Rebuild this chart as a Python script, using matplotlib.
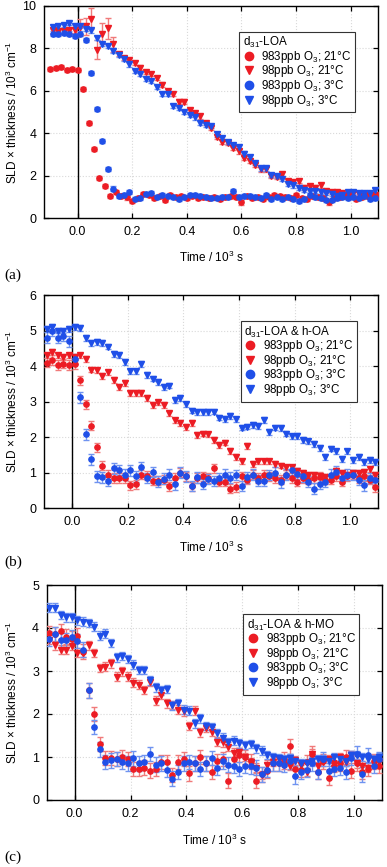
import numpy as np
import matplotlib
matplotlib.use("Agg")
import matplotlib.pyplot as plt
from matplotlib.lines import Line2D

plt.rcParams['font.family'] = ['Liberation Sans', 'DejaVu Sans']
plt.rcParams['mathtext.fontset'] = 'custom'
plt.rcParams['mathtext.rm'] = 'Liberation Sans'
plt.rcParams['mathtext.it'] = 'Liberation Sans:italic'
plt.rcParams['mathtext.bf'] = 'Liberation Sans:bold'

# ---------------- data ----------------
t_even = np.round(np.arange(-0.10, 1.1001, 0.02), 2)   # 61 samples
t_odd = np.round(np.arange(-0.09, 1.0901, 0.02), 2)    # 60 samples

series_labels = ["983ppb O$_3$; 21°C", "98ppb O$_3$; 21°C",
                 "983ppb O$_3$; 3°C", "98ppb O$_3$; 3°C"]
panel_titles = ["d$_{31}$-LOA", "d$_{31}$-LOA & h-OA", "d$_{31}$-LOA & h-MO"]
panel_tags = ["(a)", "(b)", "(c)"]

# Panel (a) d31-LOA
a_red_983 = [7.05, 7.07, 7.12, 7.0, 7.02, 6.97, 6.1, 4.5, 3.25, 1.9,
             1.52, 1.05, 1.25, 1.05, 0.98, 0.8, 0.95, 1.15, 1.1, 0.95,
             1.05, 0.85, 1.1, 1.0, 1.05, 0.95, 1.05, 0.95, 1.0, 0.95,
             1.0, 0.9, 1.0, 1.05, 1.0, 0.75, 1.05, 0.95, 1.0, 0.9,
             1.0, 1.1, 1.05, 1.0, 0.95, 1.1, 0.95, 0.9, 1.05, 1.0,
             0.95, 0.75, 0.95, 1.0, 1.05, 1.1, 0.9, 1.0, 1.05, 1.0,
             1.05]
a_red_98 = [8.85, 8.8, 8.8, 8.85, 8.85, 9.0, 9.05, 9.4, 7.95, 8.7,
            8.95, 8.2, 7.75, 7.55, 7.45, 7.3, 7.1, 6.9, 6.8, 6.6,
            6.3, 6.0, 5.85, 5.5, 5.5, 5.1, 4.95, 4.8, 4.5, 4.25,
            3.85, 3.6, 3.55, 3.3, 3.15, 2.85, 2.7, 2.5, 2.3, 2.3,
            2.0, 1.95, 2.1, 1.75, 1.7, 1.75, 1.45, 1.5, 1.45, 1.55,
            1.3, 1.25, 1.25, 1.2, 1.1, 1.2, 1.15, 1.1, 1.1, 1.1]
a_red_98_err = [0.1, 0.1, 0.1, 0.1, 0.1, 0.4, 0.4, 0.5, 0.45, 0.5, 0.5, 0.35]
a_blue_983 = [8.7, 8.7, 8.75, 8.7, 8.6, 8.7, 8.4, 6.85, 5.15, 3.65,
              2.33, 1.4, 1.05, 1.1, 1.25, 0.9, 0.95, 1.15, 1.2, 1.0,
              1.1, 1.05, 1.0, 0.9, 1.0, 1.1, 1.1, 1.05, 1.0, 0.95,
              0.95, 1.0, 1.0, 1.3, 1.0, 1.05, 1.05, 1.0, 0.95, 1.1,
              0.9, 1.0, 0.9, 1.0, 0.9, 0.8, 0.9, 1.1, 1.0, 0.95,
              0.85, 0.85, 0.95, 1.0, 0.95, 1.0, 0.95, 1.05, 0.9, 0.95]
a_blue_98 = [9.0, 9.05, 9.1, 9.2, 9.05, 9.05, 8.9, 8.85, 8.5, 8.2,
             8.1, 7.9, 7.7, 7.5, 7.25, 6.95, 6.8, 6.55, 6.45, 6.2,
             5.85, 5.85, 5.3, 5.2, 5.0, 4.85, 4.75, 4.5, 4.4, 4.35,
             3.95, 3.8, 3.6, 3.45, 3.35, 3.05, 2.9, 2.6, 2.35, 2.35,
             2.05, 2.0, 1.85, 1.6, 1.55, 1.45, 1.35, 1.3, 1.3, 1.25,
             1.2, 1.15, 1.05, 1.1, 1.25, 1.25, 1.2, 1.2, 1.2, 1.35]

# Panel (b) d31-LOA & h-OA
b_red_983 = [4.1, 4.17, 4.03, 4.07, 4.03, 4.05, 3.6, 2.92, 2.32, 1.72,
             1.2, 0.95, 0.85, 0.85, 0.85, 0.65, 0.68, 0.95, 0.92, 0.78,
             0.78, 0.8, 0.62, 0.85, 1.0, 0.9, 0.62, 0.85, 0.9, 0.85,
             1.12, 0.75, 0.75, 0.55, 0.6, 0.9, 0.8, 0.95, 0.85, 0.95,
             0.9, 0.85, 0.8, 0.95, 0.85, 0.75, 0.85, 0.8, 0.85, 0.88,
             0.8, 0.8, 0.9, 0.75, 0.9, 0.95, 0.85, 0.9, 0.8, 0.6]
b_red_98 = [4.3, 4.4, 4.3, 4.25, 4.3, 4.25, 4.3, 4.2, 3.9, 3.88,
            3.72, 3.82, 3.6, 3.42, 3.52, 3.25, 3.25, 3.25, 3.1, 2.9,
            2.98, 2.9, 2.67, 2.47, 2.4, 2.28, 2.4, 2.07, 2.1, 2.08,
            1.92, 1.78, 1.85, 1.62, 1.45, 1.32, 1.75, 1.25, 1.32, 1.32,
            1.32, 1.25, 1.2, 1.15, 1.15, 1.05, 1.0, 0.95, 0.95, 0.9,
            0.88, 0.85, 1.05, 1.0, 0.95, 1.0, 1.0, 1.02, 1.1, 0.95]
b_blue_983 = [4.8, 5.0, 4.8, 4.85, 4.7, 4.2, 3.12, 2.08, 1.38, 0.9,
              0.87, 0.77, 1.12, 1.08, 0.95, 1.07, 0.9, 1.15, 0.85, 1.02,
              0.75, 0.83, 0.95, 0.67, 1.0, 0.9, 0.63, 0.87, 0.68, 0.82,
              0.77, 0.85, 0.95, 0.86, 0.94, 0.63, 0.87, 0.95, 0.78, 0.78,
              0.94, 1.0, 0.73, 0.95, 1.08, 0.97, 0.9, 0.75, 0.55, 0.68,
              0.75, 0.95, 1.03, 0.85, 0.95, 0.94, 0.8, 0.65, 0.85, 0.8]
b_blue_98 = [5.05, 5.1, 5.0, 5.0, 5.05, 5.1, 5.07, 4.8, 4.65, 4.68,
             4.65, 4.55, 4.35, 4.32, 4.12, 3.85, 3.85, 4.05, 3.75, 3.65,
             3.55, 3.42, 3.45, 3.05, 3.1, 2.92, 2.75, 2.7, 2.7, 2.7,
             2.72, 2.55, 2.52, 2.6, 2.5, 2.27, 2.3, 2.35, 2.32, 2.48,
             2.15, 2.27, 2.25, 2.1, 2.02, 2.03, 1.92, 1.88, 1.8, 1.7,
             1.45, 1.68, 1.6, 1.38, 1.6, 1.35, 1.45, 1.3, 1.35, 1.3]

# Panel (c) d31-LOA & h-MO
c_red_983 = [3.88, 3.85, 3.92, 3.8, 3.75, 3.82, 3.45, 2.55, 2.0, 1.3,
             0.98, 0.98, 0.95, 1.0, 0.95, 0.72, 0.72, 0.75, 0.68, 0.72,
             0.88, 0.88, 0.58, 0.88, 0.95, 0.62, 0.85, 1.0, 0.85, 0.65,
             0.9, 0.95, 0.45, 0.95, 1.05, 1.0, 0.9, 0.45, 0.6, 0.68,
             0.85, 0.85, 0.95, 1.25, 0.72, 0.7, 0.88, 1.08, 0.65, 0.9,
             0.52, 0.88, 0.85, 1.0, 0.68, 0.85, 0.65, 0.72, 0.9, 0.8]
c_red_98 = [3.73, 3.6, 3.5, 3.5, 3.59, 3.43, 3.42, 3.6, 3.42, 3.07,
            3.1, 3.18, 2.87, 2.99, 2.87, 2.73, 2.68, 2.56, 2.75, 2.31,
            2.45, 2.25, 2.21, 2.1, 2.06, 1.72, 2.08, 1.57, 1.67, 1.59,
            1.36, 1.34, 1.24, 1.1, 1.12, 1.0, 0.88, 0.75, 0.58, 0.82,
            0.88, 0.95, 0.82, 0.8, 0.92, 0.82, 0.65, 1.08, 0.78, 0.88,
            0.95, 0.75, 1.0, 0.88, 1.05, 0.85, 0.8, 0.75, 0.95, 0.88]
c_blue_983 = [3.75, 3.85, 3.72, 3.72, 3.78, 3.7, 3.5, 2.55, 1.7, 1.18,
              0.88, 0.92, 0.95, 0.88, 0.85, 0.97, 0.85, 0.88, 1.07, 0.82,
              0.85, 0.7, 0.5, 0.65, 0.85, 0.88, 0.85, 0.72, 0.85, 0.98,
              0.75, 0.9, 0.82, 0.8, 0.72, 0.8, 0.78, 0.75, 0.6, 0.7,
              0.85, 0.85, 0.82, 0.9, 0.55, 0.65, 0.7, 0.85, 0.65, 0.95,
              0.68, 0.72, 0.75, 0.65, 0.98, 1.08, 0.6, 1.05, 0.8, 0.95]
c_blue_98 = [4.47, 4.47, 4.3, 4.25, 4.25, 4.18, 4.15, 4.12, 4.03, 3.82,
             3.87, 3.65, 3.32, 3.35, 3.28, 3.15, 3.02, 3.02, 2.78, 2.62,
             2.55, 2.58, 2.2, 2.25, 2.1, 2.08, 1.78, 1.9, 1.72, 1.7,
             1.55, 1.45, 1.35, 1.38, 1.32, 1.28, 1.3, 1.2, 1.15, 1.05,
             1.0, 0.98, 0.95, 0.98, 0.9, 0.85, 0.85, 0.9, 0.95, 0.95,
             0.9, 1.0, 0.95, 0.9, 1.05, 1.05, 1.0, 0.95, 0.95, 1.0]

# typical error-bar half widths per series (983/21, 98/21, 983/3, 98/3)
a_err = [0.1, 0.1, 0.1, 0.1]
b_err = [0.13, 0.08, 0.15, 0.08]
c_err = [0.17, 0.1, 0.17, 0.1]

# ---------------- style ----------------
RED = '#ec1c24'
BLUE = '#1f4fe8'
RED_E = '#f07a7a'
BLUE_E = '#6f93f0'
W, H = 387, 867

fig = plt.figure(figsize=(W / 100, H / 100), dpi=100)


def px_axes(l, t, r, b):
    return fig.add_axes([l / W, 1 - b / H, (r - l) / W, (b - t) / H])


def a_err_full():
    e = np.full(len(t_odd), a_err[1])
    e[:len(a_red_98_err)] = a_red_98_err
    return e


panels = [
    dict(box=(44, 6, 378, 218.3), xlim=(-0.123, 1.1), ylim=(0, 10), yt=np.arange(0, 11, 2),
         series=[(t_even, a_red_983, a_err[0]), (t_odd, a_red_98, a_err_full()),
                 (t_odd, a_blue_983, a_err[2]), (t_odd, a_blue_98, a_err[3])],
         leg=(0.931, 0.879), xlab_y=257, tag_y=275),
    dict(box=(44, 295, 378, 508.3), xlim=(-0.1, 1.1), ylim=(0, 6), yt=np.arange(0, 7, 1),
         series=[(t_odd, b_red_983, b_err[0]), (t_odd, b_red_98, b_err[1]),
                 (t_odd, b_blue_983, b_err[2]), (t_odd, b_blue_98, b_err[3])],
         leg=(0.936, 0.878), xlab_y=547, tag_y=562),
    dict(box=(46.7, 585, 382, 800), xlim=(-0.1, 1.1), ylim=(0, 5), yt=np.arange(0, 6, 1),
         series=[(t_odd, c_red_983, c_err[0]), (t_odd, c_red_98, c_err[1]),
                 (t_odd, c_blue_983, c_err[2]), (t_odd, c_blue_98, c_err[3])],
         leg=(0.932, 0.865), xlab_y=840, tag_y=857),
]

styles = [('o', RED, RED_E), ('v', RED, RED_E), ('o', BLUE, BLUE_E), ('v', BLUE, BLUE_E)]

for i, p in enumerate(panels):
    l, t, r, b = p['box']
    ax = px_axes(l, t, r, b)
    ax.set_xlim(*p['xlim'])
    ax.set_ylim(*p['ylim'])
    ax.set_xticks(np.arange(0, 1.01, 0.2))
    ax.set_xticklabels([f"{v:.1f}" for v in np.arange(0, 1.01, 0.2)])
    ax.set_yticks(p['yt'])
    ax.grid(True, color='#d9d9d9', linestyle=':', linewidth=0.8)
    ax.set_axisbelow(True)
    ax.axvline(0, color='black', lw=1.0, zorder=1.5)
    for (tt, yy, ee), (mk, c, ec) in zip(p['series'], styles):
        ax.errorbar(tt, yy, yerr=ee, fmt=mk, ms=3.8, color=c, mec=c, mfc=c,
                    ecolor=ec, elinewidth=1.0, capsize=2.5, capthick=1.0, zorder=3)
    ax.tick_params(direction='in', top=True, right=True, length=3.5, width=0.9,
                   labelsize=9, pad=5.5)
    for s in ax.spines.values():
        s.set_linewidth(1.0)
    handles = [Line2D([], [], ls='none', marker=mk, color=c, ms=6) for mk, c, _ in styles]
    leg = ax.legend(handles, series_labels, title=panel_titles[i], loc='upper right',
                    bbox_to_anchor=p['leg'], borderaxespad=0, fontsize=8.4,
                    title_fontsize=8.4, frameon=True, fancybox=False, framealpha=1,
                    edgecolor='#333333', handlelength=1.0, handletextpad=0.6,
                    labelspacing=-0.12, borderpad=0.3, alignment='left')
    leg.get_frame().set_linewidth(0.8)
    # axis labels
    fig.text(((l + r) / 2) / W, 1 - p['xlab_y'] / H, "Time / 10$^3$ s",
             ha='center', va='center', fontsize=8.5)
    fig.text(12 / W, 1 - ((t + b) / 2) / H, "SLD × thickness / 10$^3$ cm$^{-1}$",
             ha='center', va='center', rotation=90, fontsize=8.5)
    fig.text(4 / W, 1 - p['tag_y'] / H, panel_tags[i], ha='left', va='center',
             fontsize=11, family='Liberation Serif')

fig.savefig("out.png", dpi=100)
